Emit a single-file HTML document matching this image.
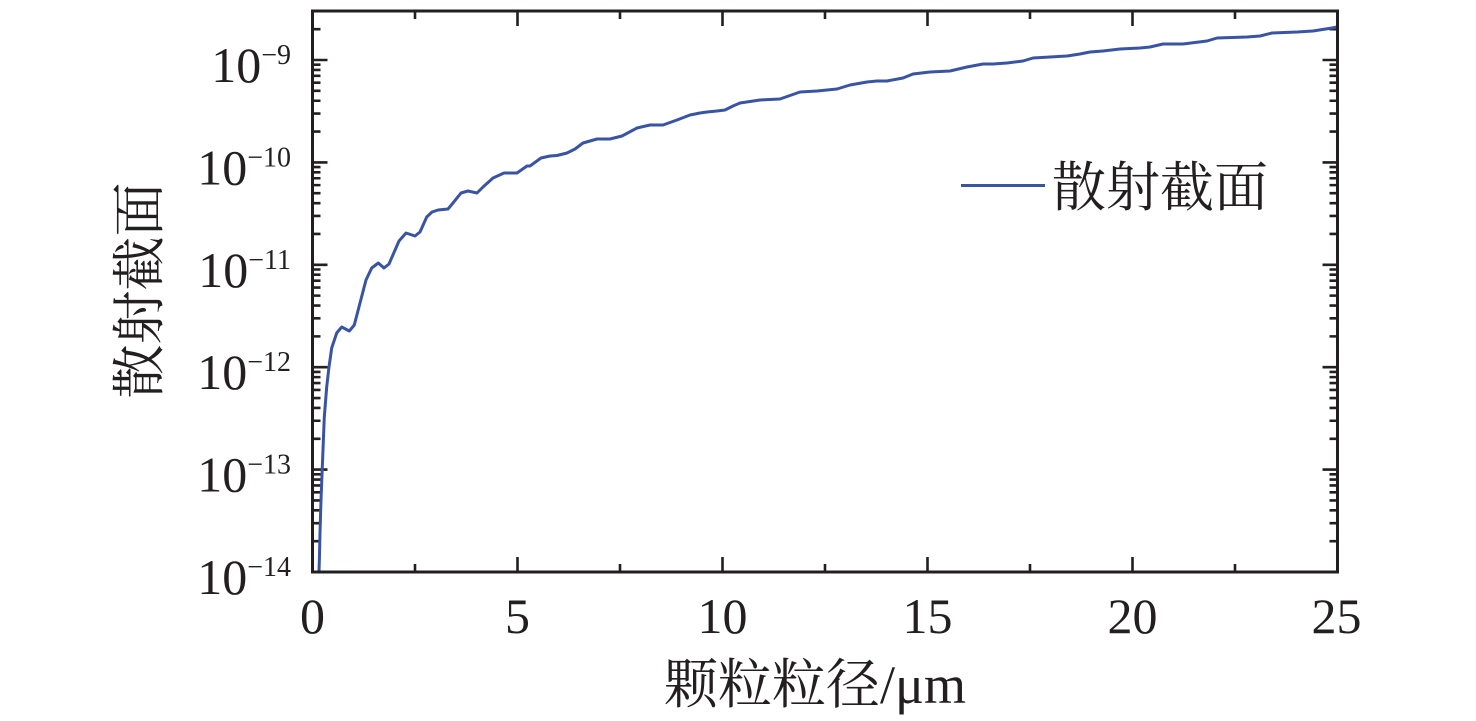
<!DOCTYPE html>
<html><head><meta charset="utf-8"><style>
html,body{margin:0;padding:0;background:#fff;}
svg{display:block;}
text{font-family:"Liberation Serif","Noto Serif CJK SC",serif;fill:#231f20;}
</style></head><body>
<svg width="1476" height="721" viewBox="0 0 1476 721" xmlns="http://www.w3.org/2000/svg">
<rect width="1476" height="721" fill="#fff"/>
<path fill="none" stroke="#231f20" stroke-width="2.6" d="
M312.5,469.6h15 M312.5,367.2h15 M312.5,264.8h15 M312.5,162.4h15 M312.5,60h15
M1337.5,469.6h-15 M1337.5,367.2h-15 M1337.5,264.8h-15 M1337.5,162.4h-15 M1337.5,60h-15
M312.5,541.17h8 M312.5,523.14h8 M312.5,510.35h8 M312.5,500.43h8 M312.5,492.32h8 M312.5,485.46h8 M312.5,479.52h8 M312.5,474.29h8
M312.5,438.77h8 M312.5,420.74h8 M312.5,407.95h8 M312.5,398.03h8 M312.5,389.92h8 M312.5,383.06h8 M312.5,377.12h8 M312.5,371.89h8
M312.5,336.37h8 M312.5,318.34h8 M312.5,305.55h8 M312.5,295.63h8 M312.5,287.52h8 M312.5,280.66h8 M312.5,274.72h8 M312.5,269.49h8
M312.5,233.97h8 M312.5,215.94h8 M312.5,203.15h8 M312.5,193.23h8 M312.5,185.12h8 M312.5,178.26h8 M312.5,172.32h8 M312.5,167.09h8
M312.5,131.57h8 M312.5,113.54h8 M312.5,100.75h8 M312.5,90.83h8 M312.5,82.72h8 M312.5,75.86h8 M312.5,69.92h8 M312.5,64.69h8
M312.5,29.17h8
M1337.5,541.17h-8 M1337.5,523.14h-8 M1337.5,510.35h-8 M1337.5,500.43h-8 M1337.5,492.32h-8 M1337.5,485.46h-8 M1337.5,479.52h-8 M1337.5,474.29h-8
M1337.5,438.77h-8 M1337.5,420.74h-8 M1337.5,407.95h-8 M1337.5,398.03h-8 M1337.5,389.92h-8 M1337.5,383.06h-8 M1337.5,377.12h-8 M1337.5,371.89h-8
M1337.5,336.37h-8 M1337.5,318.34h-8 M1337.5,305.55h-8 M1337.5,295.63h-8 M1337.5,287.52h-8 M1337.5,280.66h-8 M1337.5,274.72h-8 M1337.5,269.49h-8
M1337.5,233.97h-8 M1337.5,215.94h-8 M1337.5,203.15h-8 M1337.5,193.23h-8 M1337.5,185.12h-8 M1337.5,178.26h-8 M1337.5,172.32h-8 M1337.5,167.09h-8
M1337.5,131.57h-8 M1337.5,113.54h-8 M1337.5,100.75h-8 M1337.5,90.83h-8 M1337.5,82.72h-8 M1337.5,75.86h-8 M1337.5,69.92h-8 M1337.5,64.69h-8
M1337.5,29.17h-8
M517.5,572v-15 M722.5,572v-15 M927.5,572v-15 M1132.5,572v-15
M517.5,11v15 M722.5,11v15 M927.5,11v15 M1132.5,11v15
M415,572v-8 M620,572v-8 M825,572v-8 M1030,572v-8 M1235,572v-8
M415,11v8 M620,11v8 M825,11v8 M1030,11v8 M1235,11v8
"/>
<path fill="none" stroke="#3a54a4" stroke-width="3" stroke-linejoin="round" stroke-linecap="round"
d="M319,572 L319.5,555 L320,533 L321,500 L322.3,467 L324.3,417 L326.7,387 L329,367 L331.7,348 L336.7,333 L341.7,327 L349.3,331 L354.3,325 L360,303 L366,280 L371.7,268 L378.3,263 L384,268 L389,264 L399,241 L406,233 L415,236 L420,232 L426.7,217 L432,212 L438,210 L448,209 L453,203 L461,193 L468,191 L477,193 L483,187 L493,178 L504,173 L517,173 L527,166 L530,166 L541,158 L550,156 L557,155.5 L567,153 L575,149 L583,143 L597,139 L610,139 L622,136 L637,128 L650,125 L663,125 L677,120 L690,115 L700,113 L707,112 L717,111 L725,110 L733,106 L740,103 L760,100 L780,99 L800,92 L817,91 L837,89 L850,85 L867,82 L877,81 L887,81 L903,78 L913,74 L930,72 L950,71 L967,67 L983,64 L993,64 L1007,63 L1023,61 L1033,58 L1050,57 L1067,56 L1080,54 L1090,52 L1103,51 L1120,49 L1140,48 L1150,47 L1163,44 L1183,44 L1207,41 L1217,38 L1247,37 L1260,36 L1272,33 L1297,32 L1313,31 L1332,28 L1337,27"/>
<rect x="312.5" y="11" width="1025" height="561" fill="none" stroke="#231f20" stroke-width="3"/>

<g font-size="50" text-anchor="end" font-family="Liberation Serif, serif">
<text x="291" y="82">10<tspan font-size="28" dy="-18">−9</tspan></text>
<text x="291" y="184.4">10<tspan font-size="28" dy="-18">−10</tspan></text>
<text x="291" y="286.8">10<tspan font-size="28" dy="-18">−11</tspan></text>
<text x="291" y="389.2">10<tspan font-size="28" dy="-18">−12</tspan></text>
<text x="291" y="491.6">10<tspan font-size="28" dy="-18">−13</tspan></text>
<text x="291" y="594">10<tspan font-size="28" dy="-18">−14</tspan></text>
</g>
<g font-size="50" text-anchor="middle" font-family="Liberation Serif, serif">
<text x="312.5" y="633">0</text>
<text x="517.5" y="633">5</text>
<text x="722.5" y="633">10</text>
<text x="927.5" y="633">15</text>
<text x="1132.5" y="633">20</text>
<text x="1336.5" y="633">25</text>
</g>
<text x="815" y="703" font-size="54" text-anchor="middle">颗粒粒径/μm</text>
<text transform="translate(158,290.5) rotate(-90)" font-size="54" text-anchor="middle">散射截面</text>
<line x1="961" y1="185.5" x2="1045" y2="185.5" stroke="#3a54a4" stroke-width="3"/>
<text x="1052" y="206" font-size="54">散射截面</text>
</svg>
</body></html>
